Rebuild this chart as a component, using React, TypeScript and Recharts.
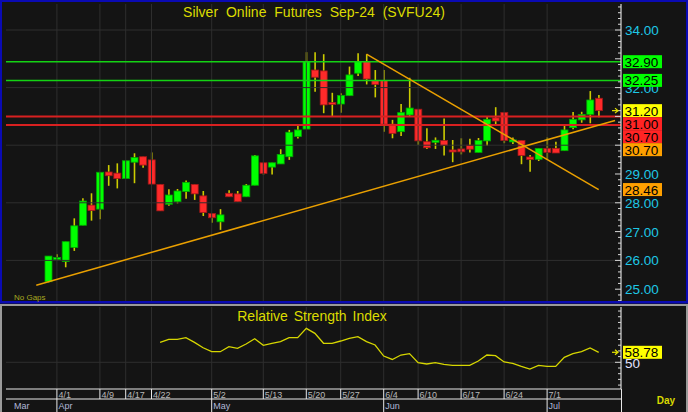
import React from 'react';
import { ComposedChart, LineChart, Line, Bar, XAxis, YAxis, ReferenceLine } from 'recharts';

const FONT = "'Liberation Sans', Arial, sans-serif";

// ---- price data (one candle per trading day, index 0 = last March session) ----
const opens = [25.26, 26.05, 25.96, 26.45, 27.22, 27.92, 27.78, 29.07, 29.03, 28.84, 29.41, 29.60, 29.49, 28.64, 27.95, 28.04, 28.39, 28.64, 28.24, 27.63, 27.34, 28.33, 28.31, 28.21, 28.61, 29.39, 29.24, 29.35, 29.60, 30.30, 30.56, 32.61, 32.58, 31.47, 31.43, 31.72, 32.50, 32.90, 32.24, 32.24, 30.73, 30.47, 31.05, 31.25, 30.12, 30.10, 30.16, 29.83, 29.87, 30.00, 29.75, 30.15, 30.95, 31.14, 30.14, 30.16, 29.59, 29.51, 29.89, 29.89, 29.81, 30.61, 30.88, 31.07, 31.63];
const highs = [26.15, 26.21, 26.65, 27.46, 28.16, 28.33, 29.06, 29.31, 29.37, 29.46, 29.72, 29.60, 29.75, 28.64, 28.47, 28.48, 28.77, 28.64, 28.41, 27.63, 27.78, 28.44, 28.41, 28.65, 29.66, 29.39, 29.39, 29.86, 30.53, 30.70, 33.23, 33.23, 33.16, 31.82, 31.80, 32.73, 33.19, 33.16, 32.61, 32.61, 30.88, 31.43, 32.34, 31.25, 30.59, 30.27, 30.93, 30.18, 30.24, 30.22, 30.25, 30.99, 31.32, 31.14, 30.27, 30.16, 29.66, 29.89, 30.27, 30.12, 30.70, 31.15, 31.16, 31.88, 31.74];
const lows = [25.24, 25.99, 25.76, 26.33, 27.22, 27.38, 27.43, 28.59, 28.50, 28.84, 28.68, 29.22, 28.65, 27.72, 27.90, 27.98, 28.14, 28.10, 27.54, 27.31, 27.06, 28.21, 28.04, 28.21, 28.61, 28.98, 28.98, 29.35, 29.49, 30.23, 30.56, 31.86, 31.11, 31.01, 31.13, 31.72, 32.40, 32.11, 31.66, 30.47, 30.24, 30.32, 31.00, 30.01, 29.87, 29.87, 29.64, 29.41, 29.68, 29.75, 29.75, 29.98, 30.68, 30.07, 30.04, 29.34, 29.08, 29.45, 29.49, 29.73, 29.81, 30.55, 30.78, 30.76, 30.97];
const closes = [26.15, 26.08, 26.65, 27.20, 28.06, 27.73, 29.06, 28.94, 28.84, 29.46, 29.57, 29.31, 28.65, 27.72, 28.27, 28.41, 28.71, 28.31, 27.66, 27.48, 27.58, 28.21, 28.04, 28.61, 29.63, 29.02, 29.39, 29.68, 30.45, 30.53, 32.90, 32.36, 31.40, 31.43, 31.73, 32.44, 32.90, 32.30, 32.11, 30.73, 30.41, 31.13, 31.29, 30.15, 29.91, 30.17, 29.99, 29.77, 29.77, 29.86, 30.16, 30.90, 30.84, 30.16, 30.16, 29.64, 29.50, 29.89, 29.75, 29.73, 30.53, 30.90, 31.07, 31.57, 31.20];

// ---- RSI (starts at candle 13) ----
const rsiStart = 13;
const rsiValues = [67.5, 70.2, 70.2, 71.6, 67.5, 62.8, 59.3, 59.3, 63.7, 62.3, 66.1, 70.7, 64.9, 66.7, 68.1, 71.6, 71.6, 79.8, 75.4, 66.7, 66.7, 68.7, 71.0, 72.5, 68.1, 65.2, 55.5, 52.5, 56.4, 57.6, 49.7, 48.5, 49.7, 48.2, 47.3, 47.3, 47.3, 51.1, 56.4, 55.8, 50.3, 49.1, 46.4, 44.1, 47.3, 46.4, 46.4, 54.4, 57.6, 59.3, 62.6, 58.78];

// ---- axis labels ----
const dateTickIdx = [1, 6, 9, 12, 19, 25, 30, 34, 39, 43, 48, 53, 58];
const dateTickLabels = ['4/1', '4/9', '4/17', '4/22', '5/2', '5/13', '5/20', '5/27', '6/4', '6/10', '6/17', '6/24', '7/1'];
const monthTickIdx = [1, 19, 39, 58];
const monthLabels = ['Apr', 'May', 'Jun', 'Jul'];
const firstMonthLabel = 'Mar';
const priceMajorTicks = [25, 26, 27, 28, 29, 30, 31, 32, 33, 34];
const priceTickLabels = [25, 26, 27, 28, 29, 32, 34]; // 30, 31, 33 sit fully under the level boxes
const priceGridValues = [26, 28, 30, 32, 34];
const rsiTickLabels = [50];
const rsiGridValues = [50];

// ---- studies ----
const greenLevels = [32.9, 32.25];
const redLevels = [31.0, 30.7];
const upTrendX = [-1.4, 65.9];
const upTrendY = [25.14, 30.86];
const downTrendX = [37, 64];
const downTrendY = [33.16, 28.46];
const markerValues = [32.9, 32.25, 31.2, 31.0, 30.7, 30.7, 28.46];
const markerColors = ['#00ff00', '#00ff00', '#ffff00', '#ff2424', '#ff2424', '#ffa000', '#ffa000'];
const rsiLast = 58.78;

// ---- layout constants ----
const X_MIN = -4.919;
const X_MAX = 66.593;
const P_MIN = 24.59;
const P_MAX = 34.903;
const R_MIN = 26.56;
const R_MAX = 98.55;
const MAIN_PLOT_H = 297;
const BOX_H = 13;

const candles = opens.map((o, i) => ({ i, o, h: highs[i], l: lows[i], c: closes[i] }));
const rsiRows = rsiValues.map((v, k) => ({ i: rsiStart + k, rsi: v }));

const priceMinorTicks = Array.from({ length: 52 }, (_, k) => +(24.6 + 0.2 * k).toFixed(1));
const rsiMinorTicks = Array.from({ length: 14 }, (_, k) => 30 + 5 * k);

// stacked marker positions (labels pushed down when they collide)
const unitsPerPx = (P_MAX - P_MIN) / MAIN_PLOT_H;
const markerShown: number[] = [];
markerValues.forEach((v, k) => {
  if (k === 0) markerShown.push(v);
  else markerShown.push(Math.min(v, markerShown[k - 1] - BOX_H * unitsPerPx));
});

const isIn = (arr: number[], v: number) => arr.some((t) => Math.abs(t - v) < 1e-6);

const Candle = (props: any) => {
  const { x, y, width, height, payload } = props;
  if (x == null || y == null) return null;
  const top = Math.min(y, y + height);
  const span = Math.abs(height);
  const { o, h, l, c } = payload;
  const ppu = span / (h - l);
  const py = (v: number) => top + (h - v) * ppu;
  const up = c >= o;
  let bTop = py(Math.max(o, c));
  let bBot = py(Math.min(o, c));
  if (bBot - bTop < 2) {
    const m = (bTop + bBot) / 2;
    bTop = m - 1;
    bBot = m + 1;
  }
  const cx = x + width / 2;
  return (
    <g>
      <line x1={cx} x2={cx} y1={py(h)} y2={py(l)} stroke="#cccc00" strokeWidth={1.6} />
      <rect
        x={x}
        y={bTop}
        width={width}
        height={bBot - bTop}
        fill={up ? '#00ff00' : '#ff2a2a'}
        stroke={up ? '#00a800' : '#a01818'}
        strokeWidth={0.8}
      />
    </g>
  );
};

const PriceTickRight = (props: any) => {
  const { x, y, payload } = props;
  const v = payload.value as number;
  const major = isIn(priceMajorTicks, v);
  const lab = isIn(priceTickLabels, v);
  return (
    <g>
      <line x1={x - (major ? 6 : 3)} x2={x} y1={y} y2={y} stroke="#d8d8d8" />
      {lab && (
        <text x={x + 4} y={y + 5} fontSize={13.5} fill="#1ec8e6" fontFamily={FONT}>
          {v.toFixed(2)}
        </text>
      )}
    </g>
  );
};

const PriceTickLeft = (props: any) => {
  const { x, y, payload } = props;
  const major = isIn(priceMajorTicks, payload.value);
  return <line x1={x} x2={x + (major ? 5 : 3)} y1={y} y2={y} stroke="#d8d8d8" />;
};

const RsiTickRight = (props: any) => {
  const { x, y, payload } = props;
  const v = payload.value as number;
  const lab = rsiTickLabels.includes(v);
  return (
    <g>
      <line x1={x - (lab ? 6 : 3)} x2={x} y1={y} y2={y} stroke="#d8d8d8" />
      {lab && (
        <text x={x + 4} y={y + 6} fontSize={13.5} fill="#e4e4ff" fontFamily={FONT}>
          {v}
        </text>
      )}
    </g>
  );
};

const RsiTickLeft = (props: any) => {
  const { x, y } = props;
  return <line x1={x} x2={x + 3} y1={y} y2={y} stroke="#d8d8d8" />;
};

const DateTick = (props: any) => {
  const { x, y, payload } = props;
  const k = dateTickIdx.indexOf(payload.value);
  return (
    <g>
      <line x1={x} x2={x} y1={y} y2={y + 10} stroke="#e8e8e8" />
      <text x={x + 1.5} y={y + 8.5} fontSize={9} fill="#b8b8b8" fontFamily={FONT}>
        {dateTickLabels[k]}
      </text>
    </g>
  );
};

const MonthTick = (props: any) => {
  const { x, y, payload } = props;
  const k = monthTickIdx.indexOf(payload.value);
  if (k < 0) {
    return (
      <text x={x + 8} y={y + 10} fontSize={9} fill="#b0b8d8" fontFamily={FONT}>
        {firstMonthLabel}
      </text>
    );
  }
  return (
    <g>
      <line x1={x} x2={x} y1={y} y2={y + 14} stroke="#e8e8e8" />
      <text x={x + 1.5} y={y + 10} fontSize={9} fill="#b0b8d8" fontFamily={FONT}>
        {monthLabels[k]}
      </text>
    </g>
  );
};

const Arrow = ({ x, y }: { x: number; y: number }) => (
  <g>
    <line x1={x} x2={x + 5} y1={y} y2={y} stroke="#e8e800" strokeWidth={1.2} />
    <path d={`M${x + 3},${y - 2.5} L${x + 6},${y} L${x + 3},${y + 2.5}`} fill="none" stroke="#e8e800" strokeWidth={1.2} />
  </g>
);

const makeMarkerLabel = (text: string, bg: string, arrow: boolean) => (p: any) => {
  const vb = p.viewBox || {};
  const xr = (vb.x || 0) + (vb.width || 0);
  const y = vb.y || 0;
  return (
    <g>
      {arrow && <Arrow x={xr - 9} y={y} />}
      <rect x={xr + 2} y={y - BOX_H / 2} width={39} height={BOX_H} fill={bg} />
      <text x={xr + 3.5} y={y + 5} fontSize={13.5} fill="#000" fontFamily={FONT}>
        {text}
      </text>
    </g>
  );
};

export default function App() {
  return (
    <div style={{ position: 'relative', width: 688, height: 412, background: '#141414', overflow: 'hidden' }}>
      <style>{'body{margin:0;background:#141414}'}</style>

      {/* main price panel */}
      <div style={{ position: 'absolute', left: 0, top: 0 }}>
        <ComposedChart width={688} height={302} data={candles} margin={{ top: 4, right: 0, bottom: 1, left: 6 }}>
          <XAxis dataKey="i" type="number" domain={[X_MIN, X_MAX]} allowDataOverflow hide />
          <YAxis
            yAxisId="pl"
            orientation="left"
            width={0}
            type="number"
            domain={[P_MIN, P_MAX]}
            allowDataOverflow
            ticks={priceMinorTicks}
            interval={0}
            tickSize={0}
            tickMargin={0}
            tickLine={false}
            axisLine={{ stroke: '#e0e0e0' }}
            tick={(p: any) => <PriceTickLeft {...p} />}
          />
          <YAxis
            yAxisId="p"
            orientation="right"
            width={67}
            type="number"
            domain={[P_MIN, P_MAX]}
            allowDataOverflow
            ticks={priceMinorTicks}
            interval={0}
            tickSize={0}
            tickMargin={0}
            tickLine={false}
            axisLine={{ stroke: '#ffffff' }}
            tick={(p: any) => <PriceTickRight {...p} />}
          />
          {priceGridValues.map((v) => (
            <ReferenceLine key={'pg' + v} yAxisId="p" y={v} stroke="#2e2e2e" strokeWidth={1} />
          ))}
          {dateTickIdx.map((v) => (
            <ReferenceLine key={'vg' + v} yAxisId="p" x={v} stroke="#2e2e2e" strokeWidth={1} />
          ))}
          {greenLevels.map((v) => (
            <ReferenceLine key={'gl' + v} yAxisId="p" y={v} stroke="#14d214" strokeWidth={1.5} />
          ))}
          {redLevels.map((v) => (
            <ReferenceLine key={'rl' + v} yAxisId="p" y={v} stroke="#d82020" strokeWidth={2} />
          ))}
          <Bar
            yAxisId="p"
            dataKey={(d: any) => [d.l, d.h]}
            barSize={7}
            shape={(p: any) => <Candle {...p} />}
            isAnimationActive={false}
          />
          <ReferenceLine
            yAxisId="p"
            segment={[
              { x: upTrendX[0], y: upTrendY[0] },
              { x: upTrendX[1], y: upTrendY[1] },
            ]}
            stroke="#eaa000"
            strokeWidth={1.5}
            ifOverflow="visible"
          />
          <ReferenceLine
            yAxisId="p"
            segment={[
              { x: downTrendX[0], y: downTrendY[0] },
              { x: downTrendX[1], y: downTrendY[1] },
            ]}
            stroke="#eaa000"
            strokeWidth={1.5}
            ifOverflow="visible"
          />
        </ComposedChart>
      </div>

      {/* overlay for the price level boxes so they sit above the axis labels */}
      <div style={{ position: 'absolute', left: 0, top: 0 }}>
        <ComposedChart width={688} height={302} data={candles} margin={{ top: 4, right: 67, bottom: 1, left: 6 }}>
          <XAxis dataKey="i" type="number" domain={[X_MIN, X_MAX]} allowDataOverflow hide />
          <YAxis yAxisId="p" type="number" domain={[P_MIN, P_MAX]} allowDataOverflow hide />
          {markerValues.map((v, k) => (
            <ReferenceLine
              key={'mk' + k}
              yAxisId="p"
              y={markerShown[k]}
              stroke="none"
              strokeWidth={0}
              label={makeMarkerLabel(v.toFixed(2), markerColors[k], k === 2)}
            />
          ))}
        </ComposedChart>
      </div>

      {/* RSI panel with date axes */}
      <div style={{ position: 'absolute', left: 0, top: 303 }}>
        <LineChart width={688} height={109} data={rsiRows} margin={{ top: 4, right: 0, bottom: 0, left: 6 }}>
          <XAxis
            xAxisId="d"
            dataKey="i"
            type="number"
            domain={[X_MIN, X_MAX]}
            allowDataOverflow
            ticks={dateTickIdx}
            interval={0}
            height={10}
            tickSize={0}
            tickMargin={0}
            tickLine={false}
            axisLine={{ stroke: '#e8e8e8' }}
            tick={(p: any) => <DateTick {...p} />}
          />
          <XAxis
            xAxisId="m"
            dataKey="i"
            type="number"
            domain={[X_MIN, X_MAX]}
            allowDataOverflow
            ticks={[X_MIN, ...monthTickIdx]}
            interval={0}
            height={13}
            tickSize={0}
            tickMargin={0}
            tickLine={false}
            axisLine={{ stroke: '#e8e8e8' }}
            tick={(p: any) => <MonthTick {...p} />}
          />
          <YAxis
            yAxisId="rl"
            orientation="left"
            width={0}
            type="number"
            domain={[R_MIN, R_MAX]}
            allowDataOverflow
            ticks={rsiMinorTicks}
            interval={0}
            tickSize={0}
            tickMargin={0}
            tickLine={false}
            axisLine={{ stroke: '#e0e0e0' }}
            tick={(p: any) => <RsiTickLeft {...p} />}
          />
          <YAxis
            yAxisId="r"
            orientation="right"
            width={67}
            type="number"
            domain={[R_MIN, R_MAX]}
            allowDataOverflow
            ticks={rsiMinorTicks}
            interval={0}
            tickSize={0}
            tickMargin={0}
            tickLine={false}
            axisLine={{ stroke: '#ffffff' }}
            tick={(p: any) => <RsiTickRight {...p} />}
          />
          {rsiGridValues.map((v) => (
            <ReferenceLine key={'rg' + v} xAxisId="d" yAxisId="r" y={v} stroke="#2e2e2e" />
          ))}
          {dateTickIdx.map((v) => (
            <ReferenceLine key={'rv' + v} xAxisId="d" yAxisId="r" x={v} stroke="#2e2e2e" />
          ))}
          <Line
            xAxisId="d"
            yAxisId="r"
            dataKey="rsi"
            stroke="#d6d600"
            strokeWidth={1.3}
            dot={false}
            isAnimationActive={false}
          />
        </LineChart>
      </div>

      {/* overlay for the RSI last-value box */}
      <div style={{ position: 'absolute', left: 0, top: 303 }}>
        <LineChart width={688} height={109} data={rsiRows} margin={{ top: 4, right: 67, bottom: 23, left: 6 }}>
          <XAxis dataKey="i" type="number" domain={[X_MIN, X_MAX]} allowDataOverflow hide />
          <YAxis yAxisId="r" type="number" domain={[R_MIN, R_MAX]} allowDataOverflow hide />
          <ReferenceLine
            yAxisId="r"
            y={rsiLast}
            stroke="none"
            strokeWidth={0}
            label={makeMarkerLabel(rsiLast.toFixed(2), '#ffff00', true)}
          />
        </LineChart>
      </div>

      {/* frames and static text */}
      <svg width={688} height={412} style={{ position: 'absolute', left: 0, top: 0, pointerEvents: 'none' }}>
        <rect x={1} y={1} width={686} height={301} fill="none" stroke="#0a0ab4" strokeWidth={2} />
        <line x1={0} x2={688} y1={302.5} y2={302.5} stroke="#0a0ab4" strokeWidth={2} />
        <line x1={0} x2={688} y1={305} y2={305} stroke="#9a9a9a" strokeWidth={2} />
        <line x1={1} x2={1} y1={304} y2={412} stroke="#9a9a9a" strokeWidth={2} />
        <line x1={687} x2={687} y1={304} y2={412} stroke="#9a9a9a" strokeWidth={2} />
        <line x1={621.5} x2={621.5} y1={389} y2={412} stroke="#e8e8e8" />
        <text x={314} y={17} textAnchor="middle" fontSize={14} wordSpacing={4} fill="#dcdc00" fontFamily={FONT}>
          Silver Online Futures Sep-24 (SVFU24)
        </text>
        <text x={312} y={320.5} textAnchor="middle" fontSize={14} wordSpacing={2} fill="#dcdc00" fontFamily={FONT}>
          Relative Strength Index
        </text>
        <text x={14} y={300} fontSize={8} fill="#a8a820" fontFamily={FONT}>
          No Gaps
        </text>
        <text x={666} y={403.5} textAnchor="middle" fontSize={10} fontWeight="bold" fill="#d8d800" fontFamily={FONT}>
          Day
        </text>
      </svg>
    </div>
  );
}
